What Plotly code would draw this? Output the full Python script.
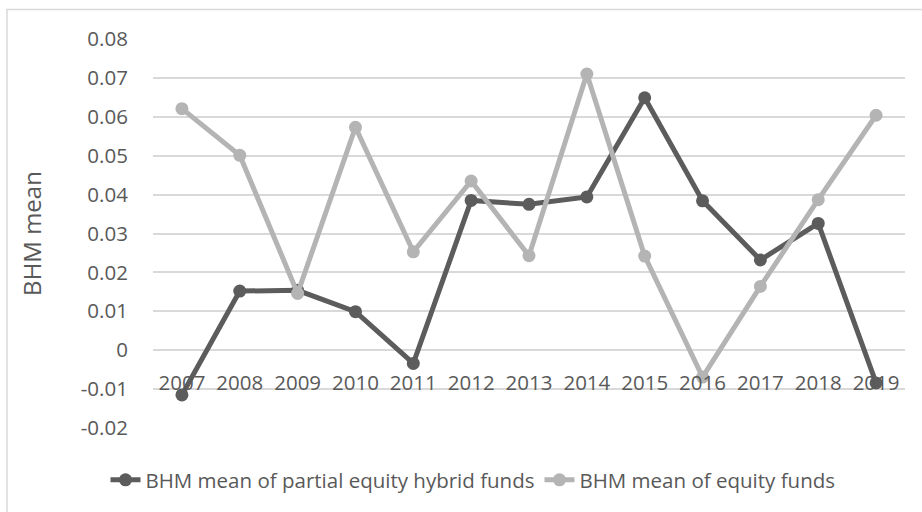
import plotly.graph_objects as go

years = ["2007", "2008", "2009", "2010", "2011", "2012", "2013",
         "2014", "2015", "2016", "2017", "2018", "2019"]
hybrid = [-0.0115, 0.0152, 0.0154, 0.0099, -0.0034, 0.0385, 0.0375,
          0.0394, 0.0649, 0.0384, 0.0232, 0.0326, -0.0084]
equity = [0.0621, 0.0501, 0.0146, 0.0573, 0.0253, 0.0435, 0.0243,
          0.0710, 0.0242, -0.0069, 0.0164, 0.0387, 0.0604]
y_ticks = [-0.02, -0.01, 0, 0.01, 0.02, 0.03, 0.04, 0.05, 0.06, 0.07, 0.08]
y_tick_text = ["-0.02", "-0.01", "0", "0.01", "0.02", "0.03", "0.04",
               "0.05", "0.06", "0.07", "0.08"]

DARK = "#5c5c5c"
LIGHT = "#b4b4b4"
TEXT = "#595959"
FONT = "Open Sans"
TICK_SIZE = 20.5

W, H = 922, 512
L, R, T, B = 153, 17, 39, 84

fig = go.Figure()
fig.add_trace(go.Scatter(
    x=years, y=hybrid, mode="lines+markers",
    name="BHM mean of partial equity hybrid funds",
    line=dict(color=DARK, width=5),
    marker=dict(color=DARK, size=13),
))
fig.add_trace(go.Scatter(
    x=years, y=equity, mode="lines+markers",
    name="BHM mean of equity funds",
    line=dict(color=LIGHT, width=5),
    marker=dict(color=LIGHT, size=13),
))

ymin, ymax = -0.02, 0.08
zero_frac = (0 - ymin) / (ymax - ymin)

fig.update_layout(
    width=W, height=H,
    margin=dict(l=L, r=R, t=T, b=B, autoexpand=False),
    paper_bgcolor="white", plot_bgcolor="white",
    font=dict(family=FONT, size=TICK_SIZE, color=TEXT),
    showlegend=True,
    legend=dict(orientation="h", xref="container", yref="container",
                x=473 / W, xanchor="center",
                y=1 - 480 / H, yanchor="middle",
                font=dict(family=FONT, size=20.5, color=TEXT),
                itemwidth=30, tracegroupgap=0),
    xaxis=dict(
        type="category", anchor="free", position=zero_frac,
        range=[-0.5, len(years) - 0.5],
        automargin=False,
        showgrid=False, showline=False, zeroline=False,
        ticks="outside", ticklen=14, tickcolor="rgba(0,0,0,0)",
        tickfont=dict(family=FONT, size=TICK_SIZE, color=TEXT),
    ),
    yaxis=dict(
        range=[ymin, ymax], tickvals=y_ticks, ticktext=y_tick_text,
        automargin=False,
        showgrid=True, gridcolor="#d9d9d9", gridwidth=1.5,
        zeroline=False, showline=False,
        ticks="outside", ticklen=20, tickcolor="rgba(0,0,0,0)",
        tickfont=dict(family=FONT, size=TICK_SIZE, color=TEXT),
        title=dict(text="BHM mean", font=dict(family=FONT, size=24, color=TEXT),
                   standoff=32),
    ),
)

pw = W - L - R
ph = H - T - B
fig.add_shape(type="rect", xref="paper", yref="paper",
              x0=(7 - L) / pw, x1=(W + 20 - L) / pw,
              y0=(H - B - (H + 20)) / ph, y1=(H - B - 9.5) / ph,
              line=dict(color="#d9d9d9", width=1.5), fillcolor="rgba(0,0,0,0)",
              layer="below")

fig.write_html("out.html",
               config={"displayModeBar": False},
               post_script="document.body.style.margin='0';")
